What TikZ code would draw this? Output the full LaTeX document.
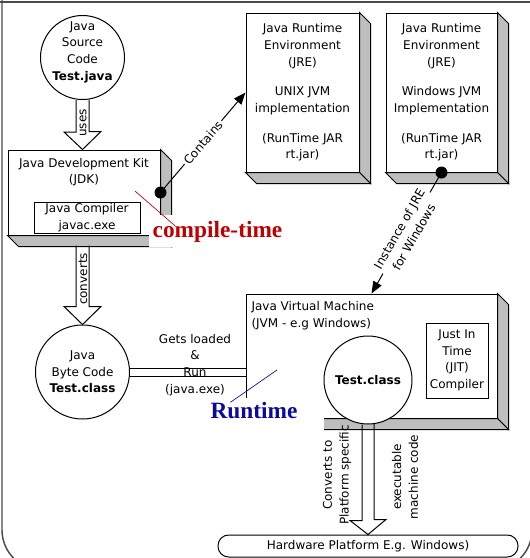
\documentclass[tikz,border=0pt]{standalone}
\usepackage{fontspec}
\setmainfont{DejaVu Sans}
\newfontfamily\stampfont{Liberation Serif}
\usetikzlibrary{arrows.meta,calc}
\definecolor{facegray}{RGB}{190,190,190}
\definecolor{ctred}{RGB}{190,0,0}
\definecolor{rtblue}{RGB}{10,10,160}
\tikzset{every picture/.style={line width=0.75pt}}
\tikzset{
  txt/.style={font=\fontsize{9}{12.5}\selectfont, align=center, inner sep=0pt},
  panel/.style={draw, fill=white, inner sep=0pt, txt},
  face/.style={draw, fill=facegray},
  bubble/.style={draw, circle, fill=white, inner sep=0pt, txt},
  frame/.style={draw=black!70, line width=1.1pt},
  link/.style={-{Triangle[length=9pt,width=7pt]}},
  stamp/.style={font=\fontsize{17.5}{20}\selectfont\stampfont\bfseries, fill=white, anchor=base},
}

\begin{document}
\begin{tikzpicture}[x=0.75pt,y=0.75pt,yscale=-1,xscale=1]
\clip (0,0) rectangle (530,558);

% Frame
\draw[frame] (0,2) -- (530,2);
\draw[frame, rounded corners=30pt] (2,0) -- (2,570) -- (532,570) -- (532,0);

% Text Node
\node[bubble, minimum size=63pt, label={[txt, yshift=4pt]center:{Java\\Source\\Code\\\textbf{Test.java}}}] (jsrc) at (82.5,57.5) {};

% JDK
\node[panel, minimum width=114pt, minimum height=63.75pt] (jdk) at (84,192.5) {};
\filldraw[face] (jdk.north east) -- ++(11,11) -- ($(jdk.south east)+(11,11)$) -- (jdk.south east) -- cycle;
\filldraw[face] (jdk.south west) -- ++(11,11) -- ($(jdk.south east)+(11,11)$) -- (jdk.south east) -- cycle;
\node[txt] (jdklbl) at (84,172) {Java Development Kit\\(JDK)};
\node[panel, minimum width=79.5pt, minimum height=23.25pt] (javac) at (87,217.5) {Java Compiler\\javac.exe};

% JRE (UNIX)
\node[panel, minimum width=84.75pt, minimum height=119.25pt] (unix) at (302.5,92.5) {Java Runtime\\Environment\\(JRE)\\[9.75pt]UNIX JVM\\implementation\\[9.75pt](RunTime JAR\\rt.jar)};
\filldraw[face] (unix.north east) -- ++(11,11) -- ($(unix.south east)+(11,11)$) -- (unix.south east) -- cycle;
\filldraw[face] (unix.south west) -- ++(11,11) -- ($(unix.south east)+(11,11)$) -- (unix.south east) -- cycle;

% JRE (Windows)
\node[panel, minimum width=83.25pt, minimum height=119.25pt] (win) at (441.5,92.5) {Java Runtime\\Environment\\(JRE)\\[9.75pt]Windows JVM\\Implementation\\[9.75pt](RunTime JAR\\rt.jar)};
\filldraw[face] (win.north east) -- ++(11,11) -- ($(win.south east)+(11,11)$) -- (win.south east) -- cycle;
\filldraw[face] (win.south west) -- ++(11,11) -- ($(win.south east)+(11,11)$) -- (win.south east) -- cycle;

% JVM
\node[panel, minimum width=188.25pt, minimum height=93pt] (jvm) at (371.5,356) {};
\filldraw[face] (jvm.north east) -- ++(11,11) -- ($(jvm.south east)+(11,11)$) -- (jvm.south east) -- cycle;
\filldraw[face] (jvm.south west) -- ++(11,11) -- ($(jvm.south east)+(11,11)$) -- (jvm.south east) -- cycle;
\node[txt, anchor=north west, align=left] (jvmlbl) at (251,301) {Java Virtual Machine\\(JVM - e.g Windows)};
\node[panel, minimum width=46.5pt, minimum height=56.25pt] (jit) at (457,360.5) {Just In\\Time\\(JIT)\\Compiler};
\node[bubble, minimum size=66pt] (tcls) at (368,380) {\textbf{Test.class}};

% Byte code
\node[bubble, minimum size=70.5pt] (bcode) at (82.5,372) {Java\\Byte Code\\\textbf{Test.class}};

% Hardware
\node[panel, rounded corners=8pt, minimum width=225pt, minimum height=16.5pt] (hw) at (368,546) {Hardware Platform E.g. Windows)};

% Connection
\draw (jsrc.south) ++(-6.5,0) -- ++(0,32) -- ++(-12,0) -- (jsrc.south |- jdk.north) -- ++(18.5,-18) -- ++(-12,0) -- ++(0,-32);
\node[txt, rotate=90] (useslbl) at (83,123) {uses};
% Connection
\draw (bcode.north) ++(-6.5,-79) -- ++(0,61) -- ++(-12,0) -- (bcode.north) -- ++(18.5,-18) -- ++(-12,0) -- ++(0,-61);
\node[txt, rotate=90] (convlbl) at (83,279) {converts};
% Connection
\draw[link] (jdk.east) -- node[midway, rotate=49.3, fill=white, txt, inner sep=1.5pt] (contlbl) {Contains} (unix.west);
\fill (jdk.east) circle (4.5pt);
% Connection
\draw[link] (win.south) -- node[midway, rotate=60.2, fill=white, txt, inner sep=1.5pt] (instlbl) {Instance of JRE\\for Windows} (jvm.north);
\fill (win.south) circle (4.5pt);

% Stamps
\node[stamp, text=ctred, inner xsep=3pt, inner ysep=4pt] (ctime) at (217.5,237) {compile-time};
\coordinate (ctick) at (135,191);
\draw[ctred, line width=0.5pt] (ctick) -- ($(ctime.north west)+(27,11)$);
\node[stamp, text=rtblue, inner xsep=20pt, inner ysep=3pt, text depth=7pt] (rtime) at (254,418) {Runtime};
\coordinate (rtick) at (277,370);
\draw[rtblue, line width=0.5pt] ($(rtime.north west)+(47,5)$) -- (rtick);

% Connection
\draw[double, double distance=5.25pt] (bcode) -- (bcode -| jvm.west);
\node[txt] (gllbl) at (195,365) {Gets loaded\\\&\\Run\\(java.exe)};
% Connection
\draw (tcls.south) ++(-6,0) -- ++(0,96) -- ++(-12,0) -- (tcls.south |- hw.north) -- ++(18,-15) -- ++(-12,0) -- ++(0,-96);
\node[txt, rotate=90] (pslbl) at (337,475) {Converts to\\Platform specific};
\node[txt, rotate=90] (exlbl) at (405,477) {executable\\machine code};

\end{tikzpicture}
\end{document}
